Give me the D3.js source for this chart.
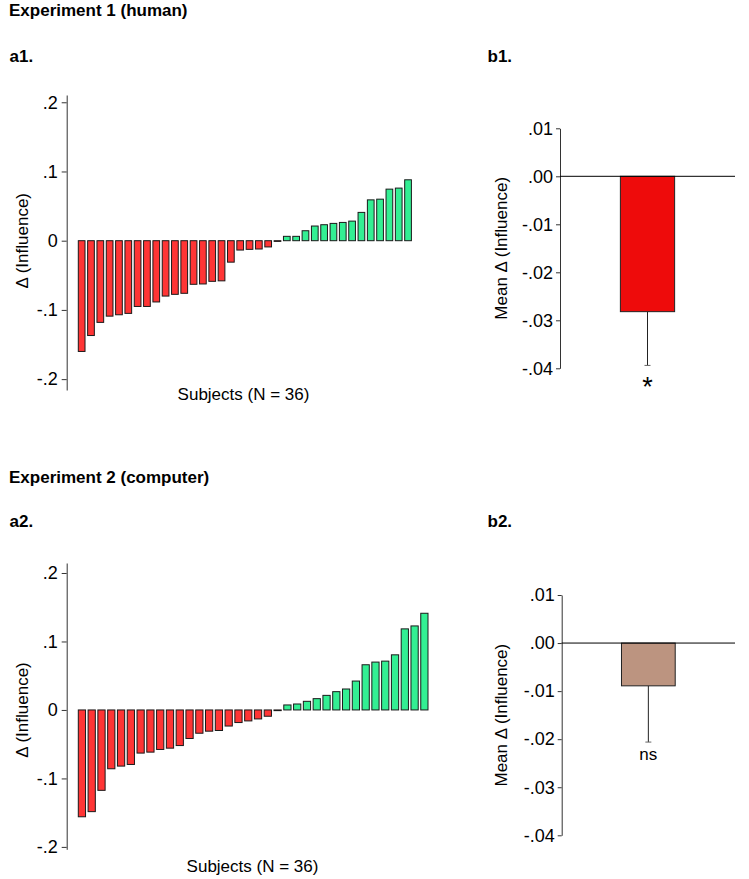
<!DOCTYPE html>
<html>
<head>
<meta charset="utf-8">
<script src="https://cdn.jsdelivr.net/npm/d3@7"></script>
<style>
  html, body { margin: 0; padding: 0; background: #fff; }
  svg { display: block; font-family: "Liberation Sans", Arial, Helvetica, sans-serif; }
</style>
</head>
<body>
<svg id="chart" width="749" height="879"></svg>
<script>
// ---------------- DATA ----------------
const subjects = d3.range(1, 37);
const exp1Delta = [-0.160, -0.137, -0.118, -0.109, -0.107, -0.105, -0.095, -0.095, -0.0885, -0.080, -0.0775, -0.076,
                   -0.063, -0.0625, -0.0587, -0.058, -0.031, -0.0135, -0.0125, -0.012, -0.009, -0.001,
                   0.0063, 0.0063, 0.0144, 0.0212, 0.0231, 0.025, 0.0264, 0.0283, 0.0409, 0.059, 0.060, 0.0745, 0.076, 0.088];
const exp2Delta = [-0.156, -0.1485, -0.1174, -0.0859, -0.082, -0.0796, -0.063, -0.0616, -0.0577, -0.0558, -0.052, -0.0417,
                   -0.034, -0.031, -0.030, -0.0235, -0.0184, -0.016, -0.0131, -0.0092, -0.001,
                   0.0073, 0.0087, 0.0126, 0.0165, 0.0213, 0.0267, 0.0306, 0.0422, 0.066, 0.0699, 0.0713, 0.0805, 0.1184, 0.1227, 0.1412];
const meanCategory = ["Mean"];
const exp1Mean = [-0.0282];
const exp1ErrLow = [-0.0394];
const exp2Mean = [-0.0089];
const exp2ErrLow = [-0.0206];
const subjectTicks = [0.2, 0.1, 0, -0.1, -0.2];
const subjectTickLabels = [".2", ".1", "0", "-.1", "-.2"];
const meanTicks = [0.01, 0, -0.01, -0.02, -0.03, -0.04];
const meanTickLabels = [".01", ".00", "-.01", "-.02", "-.03", "-.04"];
const exp1Sig = "*";
const exp2Sig = "ns";

// ---------------- STYLE ----------------
const RED = "#ff3535";
const GREEN = "#33ef93";
const MEAN1 = "#ee0b0b";
const MEAN2 = "#bc9480";

const svg = d3.select("#chart");

function txt(x, y, s, opts = {}) {
  return svg.append("text")
    .attr("x", x).attr("y", y)
    .attr("font-size", opts.size || 17)
    .attr("font-weight", opts.bold ? "bold" : "normal")
    .attr("text-anchor", opts.anchor || "start")
    .attr("fill", "#000")
    .text(s);
}

// headings
txt(9, 15.5, "Experiment 1 (human)", {bold: true, size: 17});
txt(9.5, 61.5, "a1.", {bold: true, size: 17});
txt(487.5, 61.5, "b1.", {bold: true, size: 17});
txt(9, 483, "Experiment 2 (computer)", {bold: true, size: 17});
txt(9.5, 526.5, "a2.", {bold: true, size: 17});
txt(487.5, 526.5, "b2.", {bold: true, size: 17});

// ------------- subject panels -------------
function subjectPanel(values, cfg) {
  const g = svg.append("g");
  const x = d3.scaleBand().domain(subjects).range([cfg.x0, cfg.x1])
    .paddingInner(cfg.padIn).paddingOuter(0);
  const y = d3.scaleLinear().domain(cfg.ydom).range(cfg.yrange);

  const axis = d3.axisLeft(y).tickValues(subjectTicks)
    .tickFormat((d, i) => subjectTickLabels[i])
    .tickSize(5).tickSizeOuter(0).tickPadding(4);
  const ag = g.append("g").attr("transform", `translate(${cfg.ax},0)`).call(axis);
  ag.selectAll("path, line").attr("stroke", "#333").attr("stroke-width", 1);
  ag.selectAll("text").attr("font-size", 18).attr("fill", "#000")
    .attr("font-family", "Liberation Sans, Arial, sans-serif");

  g.selectAll("rect.bar").data(values).enter().append("rect")
    .attr("class", "bar")
    .attr("x", (d, i) => x(subjects[i]))
    .attr("width", x.bandwidth())
    .attr("y", d => y(Math.max(0, d)))
    .attr("height", d => Math.abs(y(d) - y(0)))
    .attr("fill", d => d < 0 ? RED : GREEN)
    .attr("stroke", "#1a1a1a")
    .attr("stroke-width", 1);

  svg.append("text")
    .attr("transform", `translate(${cfg.labX},${y(0)}) rotate(-90)`)
    .attr("text-anchor", "middle").attr("font-size", 17)
    .text("\u0394 (Influence)");

  txt(cfg.subX, cfg.subY, "Subjects (N = 36)", {anchor: "middle", size: 17});
}

subjectPanel(exp1Delta, {x0: 78.3, x1: 411.4, padIn: 0.28, ydom: [-0.2157, 0.2105], yrange: [390, 95],
  ax: 66.7, labX: 28, subX: 243.5, subY: 400});
subjectPanel(exp2Delta, {x0: 78.3, x1: 428, padIn: 0.26, ydom: [-0.2035, 0.2146], yrange: [849.3, 563],
  ax: 66.7, labX: 28, subX: 252.5, subY: 872});

// ------------- mean panels -------------
function meanPanel(mean, errLow, color, sig, cfg) {
  const g = svg.append("g");
  const x = d3.scaleBand().domain(meanCategory).range([cfg.ax, 735])
    .paddingInner(0.69).paddingOuter(0.345);
  const y = d3.scaleLinear().domain([-0.04, 0.01]).range(cfg.yrange);

  const axis = d3.axisLeft(y).tickValues(meanTicks)
    .tickFormat((d, i) => meanTickLabels[i])
    .tickSize(4).tickSizeOuter(0).tickPadding(3);
  const ag = g.append("g").attr("transform", `translate(${cfg.ax},0)`).call(axis);
  ag.selectAll("path, line").attr("stroke", "#333").attr("stroke-width", 1);
  ag.selectAll("text").attr("font-size", 18).attr("fill", "#000")
    .attr("font-family", "Liberation Sans, Arial, sans-serif");

  // error bar
  const cx = x(meanCategory[0]) + x.bandwidth() / 2;
  g.append("line").attr("x1", cx).attr("x2", cx)
    .attr("y1", y(mean[0])).attr("y2", y(errLow[0]))
    .attr("stroke", "#222").attr("stroke-width", 1);
  g.append("line").attr("x1", cx - 3).attr("x2", cx + 3)
    .attr("y1", y(errLow[0])).attr("y2", y(errLow[0]))
    .attr("stroke", "#666").attr("stroke-width", 1);

  g.selectAll("rect.mbar").data(mean).enter().append("rect")
    .attr("class", "mbar")
    .attr("x", x(meanCategory[0]))
    .attr("width", x.bandwidth())
    .attr("y", d => y(Math.max(0, d)))
    .attr("height", d => Math.abs(y(d) - y(0)))
    .attr("fill", color)
    .attr("stroke", "#222").attr("stroke-width", 1);

  // zero line
  g.append("line").attr("x1", cfg.ax).attr("x2", 735)
    .attr("y1", y(0)).attr("y2", y(0))
    .attr("stroke", "#000").attr("stroke-width", 1);

  svg.append("text")
    .attr("transform", `translate(506.5,${(cfg.yrange[0] + cfg.yrange[1]) / 2}) rotate(-90)`)
    .attr("text-anchor", "middle").attr("font-size", 17)
    .text("Mean \u0394 (Influence)");

  txt(cx, y(errLow[0]) + cfg.sigDy, sig, {anchor: "middle", size: cfg.sigSize});
}

meanPanel(exp1Mean, exp1ErrLow, MEAN1, exp1Sig, {ax: 560, yrange: [368.3, 128.3], sigDy: 31, sigSize: 27});
meanPanel(exp2Mean, exp2ErrLow, MEAN2, exp2Sig, {ax: 561.7, yrange: [835.3, 595], sigDy: 18, sigSize: 17});
</script>
</body>
</html>
